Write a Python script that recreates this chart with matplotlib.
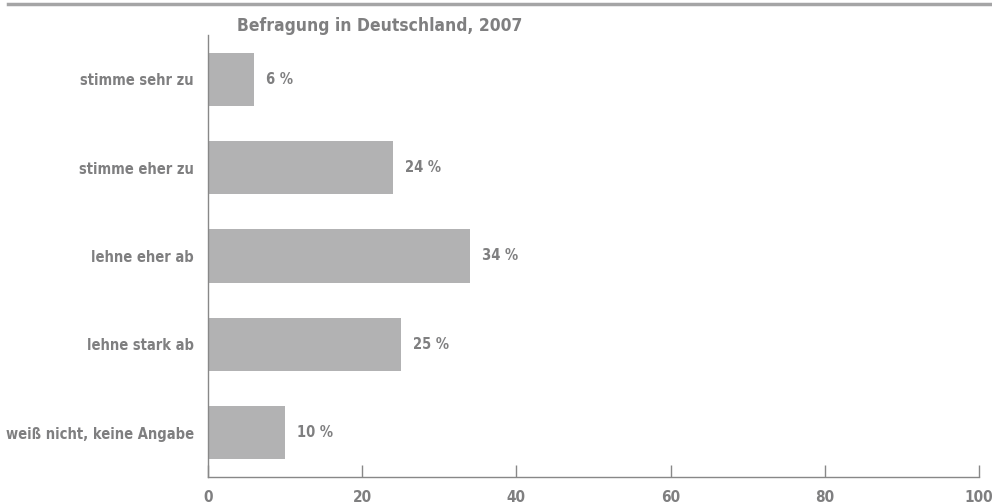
import matplotlib.pyplot as plt
import matplotlib.lines as mlines

categories = ['stimme sehr zu', 'stimme eher zu', 'lehne eher ab',
              'lehne stark ab', 'weiß nicht, keine Angabe']
values = [6, 24, 34, 25, 10]
xticks = [0, 20, 40, 60, 80, 100]
title = 'Befragung in Deutschland, 2007'

txt = '#7f7f80'
bar_col = '#b2b2b3'
plt.rcParams['font.family'] = ['DejaVu Sans']
plt.rcParams['font.stretch'] = 'condensed'
plt.rcParams['font.weight'] = 'bold'

fig = plt.figure(figsize=(9.92, 5.04), dpi=100)
ax = fig.add_axes([208 / 992, 27 / 504, 771 / 992, 442 / 504])

ypos = list(range(len(categories)))
ax.barh(ypos, values, height=0.6, color=bar_col)
for y, v in zip(ypos, values):
    ax.annotate(f'{v} %', (v, y), xytext=(8.5, 0), textcoords='offset points',
                va='center', ha='left', fontsize=10.5, color=txt, fontweight='bold')

ax.set_xlim(0, 100)
ax.set_ylim(len(categories) - 0.5, -0.5)
ax.set_yticks(ypos)
ax.set_yticklabels(categories)
ax.set_xticks(xticks)
ax.tick_params(axis='y', length=0, pad=10, labelsize=10.5, labelcolor=txt)
ax.tick_params(axis='x', direction='in', length=9, width=1, color='#888888',
               pad=9, labelsize=11, labelcolor=txt)
for s in ['top', 'right']:
    ax.spines[s].set_visible(False)
for s in ['left', 'bottom']:
    ax.spines[s].set_color('#888888')
    ax.spines[s].set_linewidth(1)

ax.text(237 / 992, 1 - 26 / 504, title, transform=fig.transFigure,
        fontsize=12.5, color=txt, fontweight='bold', va='center', ha='left')
fig.add_artist(mlines.Line2D([8 / 992, 1], [1 - 4 / 504] * 2,
                             transform=fig.transFigure, color='#a5a5a6', lw=2.5))

fig.savefig('out.png', dpi=100)
